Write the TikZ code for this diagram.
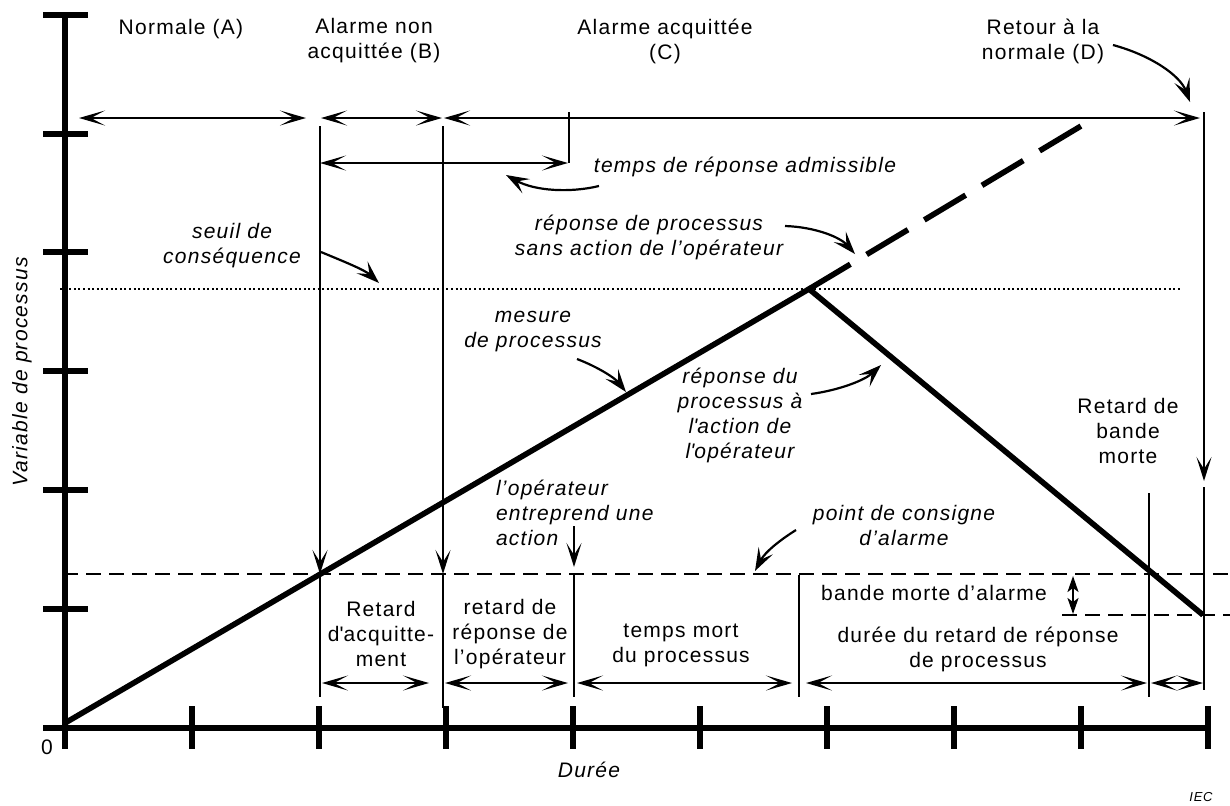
\documentclass[tikz,border=0pt]{standalone}
\usepackage{fontspec}
\setmainfont{Liberation Sans}[LetterSpace=6]
\usetikzlibrary{arrows.meta}
\begin{document}
\begin{tikzpicture}[x=0.5pt,y=-0.5pt,
  every node/.style={inner sep=0pt,outer sep=0pt},
  lbl/.style={font=\fontsize{10.5}{12.5}\selectfont,align=center},
  ann/.style={font=\fontsize{10.5}{12.5}\selectfont\itshape,align=center},
  axisline/.style={line width=2.6pt},
  procline/.style={line width=2.8pt},
  fineline/.style={line width=1pt},
  dotline/.style={line width=0.9pt,dash pattern=on 1pt off 1.3pt},
  setline/.style={line width=0.8pt,dash pattern=on 7.5pt off 4pt},
  dimarrow/.style={fineline,{Stealth[length=13pt,width=7.5pt,inset=7pt]}-{Stealth[length=13pt,width=7.5pt,inset=7pt]}},
  downarrow/.style={fineline,-{Stealth[length=12pt,width=7.5pt,inset=6pt]}},
  pointer/.style={line width=1.1pt,-{Stealth[length=11.5pt,width=8pt,inset=5pt]}},
  smallarrow/.style={fineline,{Stealth[length=8pt,width=5.5pt,inset=2pt]}-{Stealth[length=8pt,width=5.5pt,inset=2pt]}}
]
\useasboundingbox (0,0) rectangle (1230,805);

% ---- axes ----
\coordinate (yTop) at (65,15);
\coordinate (yBot) at (65,749);
\coordinate (xL) at (43,728);
\coordinate (xR) at (1210,728);
\draw[axisline] (yTop) -- (yBot);
\draw[axisline] (xL) -- (xR);
\foreach \yy in {15,134,252,371,490,609}
  \draw[axisline] (43,\yy) -- (88,\yy);
\foreach \k in {1,...,9}
  \draw[axisline] (65+127*\k,706) -- (65+127*\k,749);

\node[lbl] (zero) at (47,747) {0};
\node[ann] (dur) at (589,770) {Durée};
\node[ann,rotate=90] (var) at (22,372) {Variable de processus};
\node[font=\fontsize{6.5}{8}\selectfont\itshape] (iec) at (1201,797) {IEC};

% ---- reference levels ----
\draw[dotline] (60,289) -- (1180,289);
\draw[setline] (63,574) -- (1230,574);
\draw[setline] (1062,615) -- (1230,615);

% ---- process variable ----
\coordinate (start) at (65,723);
\coordinate (peak) at (809,289);
\coordinate (noact) at (1081,126);
\coordinate (low) at (1203,615);
\draw[procline,line join=miter] (start) -- (peak) -- (low);
\draw[procline,dash pattern=on 24.1pt off 9.5pt] (peak) -- (noact);

% ---- vertical markers ----
\draw[downarrow] (320,126) -- (320,574);
\draw[fineline] (320,574) -- (320,697);
\draw[downarrow] (443,126) -- (443,574);
\draw[fineline] (443,574) -- (443,708);
\draw[fineline] (574,575) -- (574,697);
\draw[fineline] (799,575) -- (799,697);
\draw[fineline] (1149,493) -- (1149,697);
\draw[downarrow] (1204,112) -- (1204,481);
\draw[fineline] (1204,487) -- (1204,690);

% ---- state spans ----
\draw[dimarrow] (79,118) -- (306,118);
\draw[dimarrow] (321,118) -- (442,118);
\draw[dimarrow] (444,118) -- (1200,118);
\draw[fineline] (569,112) -- (569,163);
\draw[dimarrow] (320,163) -- (568,163);

\node[lbl] (stA) at (181,29) {Normale (A)};
\node[lbl] (stB) at (374,41) {Alarme non\\acquittée (B)};
\node[lbl] (stC) at (665,41) {Alarme acquittée\\(C)};
\node[lbl] (stD) at (1043,41) {Retour à la\\normale (D)};
\coordinate (pD) at (1113,45);
\coordinate (tD) at (1190,102);
\draw[pointer] (pD) .. controls (1150,55) and (1180,75) .. (tD);

% ---- annotations ----
\node[ann] (adm) at (745,167) {temps de réponse admissible};
\coordinate (pAdm) at (599,186);
\coordinate (tAdm) at (506,175);
\draw[pointer] (pAdm) .. controls (570,193) and (535,191) .. (tAdm);

\node[ann] (seuil) at (232,246) {seuil de\\conséquence};
\coordinate (pSeuil) at (321,252);
\coordinate (tSeuil) at (379,283);
\draw[pointer] (pSeuil) .. controls (345,262) and (365,270) .. (tSeuil);

\node[ann] (sans) at (649,237) {réponse de processus\\sans action de l’opérateur};
\coordinate (pSans) at (785,226);
\coordinate (tSans) at (855,254);
\draw[pointer] (pSans) .. controls (815,227) and (840,237) .. (tSans);

\node[ann] (mes) at (533,332) {mesure\\de processus};
\coordinate (pMes) at (577,359);
\coordinate (tMes) at (626,392);
\draw[pointer] (pMes) .. controls (598,367) and (615,378) .. (tMes);

\node[ann] (avec) at (740,415) {réponse du\\processus à\\l\textquotesingle action de\\l\textquotesingle opérateur};
\coordinate (pAvec) at (811,394);
\coordinate (tAvec) at (881,365);
\draw[pointer] (pAvec) .. controls (840,390) and (865,380) .. (tAvec);

\node[ann,align=left,anchor=west] (act) at (496,513) {l’opérateur\\entreprend une\\action};
\coordinate (pAct) at (574,526);
\coordinate (tAct) at (574,567);
\draw[downarrow] (pAct) -- (tAct);

\node[ann] (cons) at (904,525) {point de consigne\\d’alarme};
\coordinate (pCons) at (796,530);
\coordinate (tCons) at (755,571);
\draw[pointer] (pCons) .. controls (780,540) and (765,552) .. (tCons);

\node[lbl] (rbm) at (1128,431) {Retard de\\bande\\morte};
\node[lbl] (bma) at (934,593) {bande morte d’alarme};
\coordinate (bTop) at (1073,576);
\coordinate (bBot) at (1073,614);
\draw[smallarrow] (bTop) -- (bBot);

% ---- delay spans ----
\node[lbl] (ack) at (381,634) {Retard\\d\textquotesingle acquitte-\\ment};
\node[lbl] (opr) at (510,634) {retard de\\réponse de\\l’opérateur};
\node[lbl] (dead) at (681,645) {temps mort\\du processus};
\node[lbl] (resp) at (978,649) {durée du retard de réponse\\de processus};
\draw[dimarrow] (322,683) -- (429,683);
\draw[dimarrow] (445,683) -- (568,683);
\draw[dimarrow] (577,683) -- (792,683);
\draw[dimarrow] (806,683) -- (1147,683);
\draw[dimarrow] (1151,683) -- (1203,683);
\end{tikzpicture}
\end{document}
